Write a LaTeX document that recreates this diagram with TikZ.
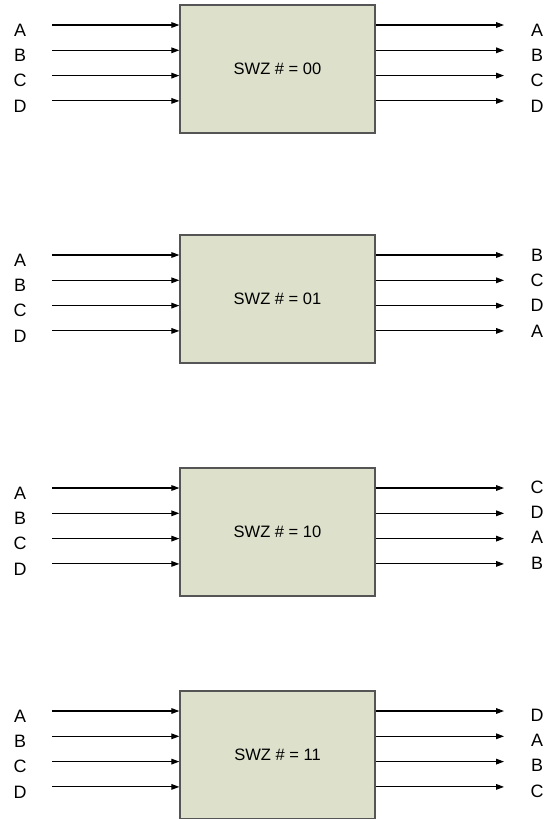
\documentclass[tikz,border=0pt]{standalone}
\usepackage{fontspec}
\setmainfont{Liberation Sans}
\usetikzlibrary{arrows.meta, positioning}
\definecolor{swzfill}{RGB}{221,224,203}
\definecolor{swzline}{RGB}{85,85,85}

\begin{document}
\begin{tikzpicture}[>={Triangle[length=4.5pt, width=3.2pt]}, x=0.02cm, y=-0.02cm, line width=0.6pt]

  % --- GENERAL SETTINGS ---
  \def\dy{25.3}

  % Swizzle block and pin labels
  \tikzstyle{swzbox}=[draw=swzline, fill=swzfill, line width=0.8pt, inner sep=0pt,
    minimum width=3.9cm, minimum height=2.56cm, font=\fontsize{9.4}{11}\selectfont]
  \tikzstyle{pin}=[inner sep=0pt, font=\fontsize{10.2}{12}\selectfont]

  \useasboundingbox (0,0) rectangle (545,819);

  % --- BLOCKS (top edge, code, output order, label shift) ---
  \foreach \b/\top/\code/\outs/\dr in {0/5/00/{A,B,C,D}/5, 1/235/01/{B,C,D,A}/0,
                                       2/468/10/{C,D,A,B}/-1, 3/691/11/{D,A,B,C}/4} {
    \node[swzbox] (swz\b) at (277.5, \top+64) {SWZ \# = \code};

    % Inputs
    \foreach \n [count=\i from 0] in {A,B,C,D} {
      \node[pin] (in\b\i) at (20, \top+25+\dy*\i) {\n};
      \coordinate (s\b\i) at (52, \top+20+\dy*\i);
      \draw [->] (s\b\i) -- (s\b\i -| swz\b.west);
    }

    % Outputs (swizzled)
    \foreach \n [count=\i from 0] in \outs {
      \node[pin] (out\b\i) at (537, \top+20+\dr+\dy*\i) {\n};
      \coordinate (e\b\i) at (504, \top+20+\dy*\i);
      \draw [->] (e\b\i -| swz\b.east) -- (e\b\i);
    }
  }

\end{tikzpicture}
\end{document}
